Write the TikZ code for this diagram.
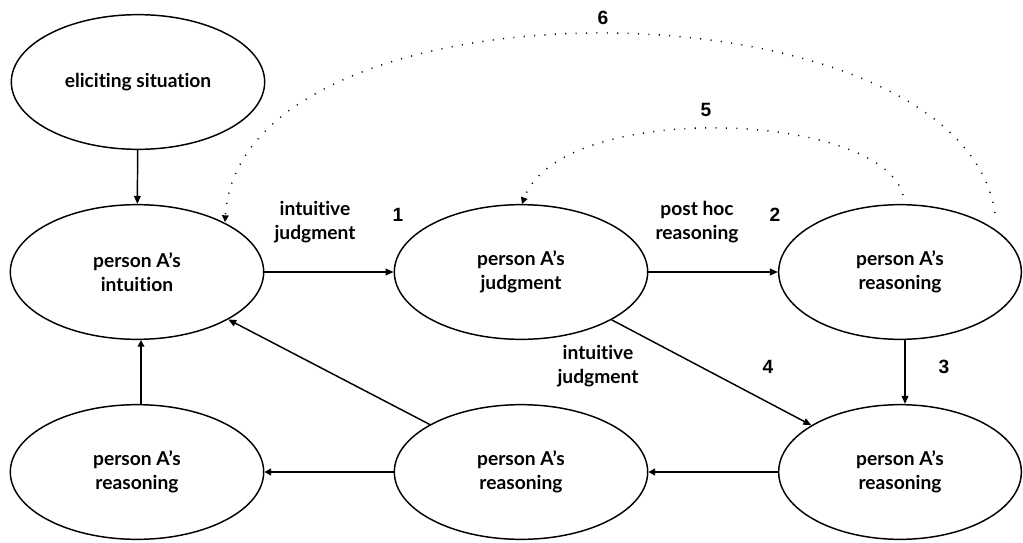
\documentclass[tikz,border=0pt]{standalone}
\usepackage{fontspec}
\setmainfont{Lato}[Ligatures=NoCommon]
\newfontfamily\numfont{Liberation Sans}
\usetikzlibrary{shapes.geometric,arrows.meta}

\tikzset{
    state/.style={ellipse,draw,line width=1.1pt,minimum width=190pt,minimum height=101pt,
        inner sep=0pt,align=center,font=\bfseries\Large},
    lab/.style={align=center,font=\bfseries\Large},
    num/.style={font=\numfont\bfseries\Large},
    thinarr/.style={line width=1.1pt,-{Triangle[length=6pt,width=5pt]}},
    boldarr/.style={line width=2.2pt,-{Triangle[length=5pt,width=5pt]}},
    loop/.style={line width=1.1pt,dotted,dash pattern=on 0.8pt off 7pt,
        -{Triangle[length=5pt,width=5pt]}}
    }

\begin{document}
\begin{tikzpicture}[x=0.75pt,y=-0.75pt]
                \useasboundingbox (0,0) rectangle (1023,542);
                % The States
                \node(sit)[state] at (138,82) {eliciting situation};
                \node(intu)[state] at (137,272) {person A's\\intuition};
                \node(judg)[state] at (521,272) {person A's\\judgment};
                \node(reas)[state,minimum width=182pt] at (900,272) {person A's\\reasoning};
                \node(low1)[state] at (137,472) {person A's\\reasoning};
                \node(low2)[state] at (521,472) {person A's\\reasoning};
                \node(low3)[state,minimum width=182pt] at (900,472) {person A's\\reasoning};
                % The Links
                \draw[thinarr] (sit) -- (intu);
                \draw[thinarr] (intu) -- (judg);
                \draw[thinarr] (judg) -- (reas);
                \draw[thinarr] (reas.south -| 905,0) -- (low3.north -| 905,0);
                \draw[thinarr] (judg) -- (low3);
                \draw[thinarr] (low2) -- (intu);
                \draw[boldarr] (low3) -- (low2);
                \draw[boldarr] (low2) -- (low1);
                \draw[boldarr] (low1.north -| 141,0) -- (intu.south -| 141,0);
                % The Loops
                \coordinate(s5) at (903,195);
                \coordinate(e5) at (522,204);
                \coordinate(s6) at (995,213);
                \coordinate(e6) at (225,222);
                \draw[loop] (s5) .. controls (880,110) and (560,100) .. (e5);
                \draw[loop] (s6) .. controls (960,-25) and (240,-30) .. (e6);
                % The Labels
                \node(l1)[lab] at (315,222) {intuitive\\judgment};
                \node(l2)[lab] at (697,222) {post hoc\\reasoning};
                \node(l3)[lab] at (598,366) {intuitive\\judgment};
                \node(n1)[num] at (398,215) {1};
                \node(n2)[num] at (775,215) {2};
                \node(n3)[num] at (944,367) {3};
                \node(n4)[num] at (768,367) {4};
                \node(n5)[num] at (706,110) {5};
                \node(n6)[num] at (603,18) {6};
            \end{tikzpicture}
\end{document}
